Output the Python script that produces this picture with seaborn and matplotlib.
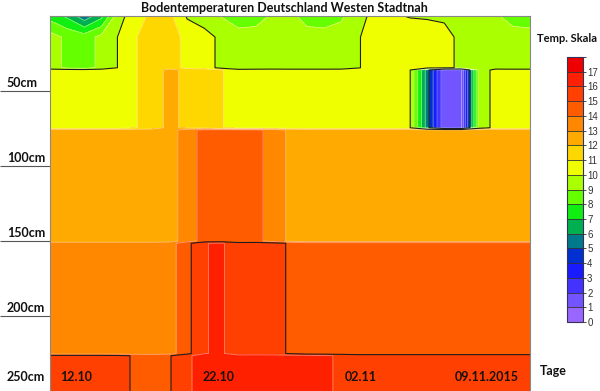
import numpy as np
import matplotlib
matplotlib.use("Agg")
import matplotlib.pyplot as plt
from matplotlib.colors import ListedColormap, BoundaryNorm
import seaborn as sns

# Tage 12.10. bis 09.11.2015 (Index 0..28)
tage = np.arange(29)

# Bodentemperaturen in °C, ein Wert pro Tag und Schicht
oberflaeche = [7.6, 6.8, 5.3, 6.7, 9.7, 10.5, 11.3, 11.2, 9.9, 9.3, 8.95, 8.6, 8.7, 9.1, 9.2,
               8.7, 8.6, 8.85, 9.7, 10.3, 10.1, 9.95, 9.9, 9.8, 9.3, 9.2, 9.1, 8.7, 8.6]
schicht_oben = [9.4, 8.8, 8.5, 9.3, 10.05, 10.95, 11.5, 11.6, 10.6, 10.5, 9.7, 9.3, 9.3, 9.4, 9.3,
                9.3, 9.3, 9.4, 9.95, 10.4, 10.5, 10.5, 10.5, 10.4, 9.7, 9.4, 9.4, 9.3, 9.3]
schicht_50cm = [10.4, 10.4, 10.4, 10.4, 10.4, 10.95, 11.5, 12.3, 11.7, 11.5, 11.1, 10.3, 10.4, 10.4, 10.4,
                10.4, 10.4, 10.4, 10.4, 10.4, 10.4, 10.05, 5.5, 1.2, 1.0, 9.2, 10.4, 10.4, 10.4]
schicht_100cm = [12.4, 12.4, 12.4, 12.4, 12.4, 12.4, 12.4, 12.5, 13.6, 14.3, 14.4, 14.4, 14.3, 13.6, 12.8,
                 12.4, 12.4, 12.4, 12.4, 12.4, 12.4, 12.4, 12.4, 12.4, 12.4, 12.4, 12.4, 12.4, 12.4]
schicht_200cm = [13.5, 13.5, 13.5, 13.5, 13.5, 13.5, 13.5, 13.6, 14.7, 15.95, 16.15, 15.3, 15.4, 15.3, 14.9,
                 14.5, 14.5, 14.5, 14.5, 14.5, 14.5, 14.5, 14.5, 14.5, 14.5, 14.5, 14.5, 14.5, 14.5]
schicht_250cm = [15.3, 15.3, 15.3, 15.3, 15.2, 14.9, 14.7, 14.95, 15.8, 16.5, 16.4, 16.4, 16.4, 16.4, 16.4,
                 16.4, 16.2, 15.8, 15.5, 15.5, 15.5, 15.5, 15.5, 15.5, 15.5, 15.5, 15.5, 15.5, 15.5]

# Tiefe (cm) der Ober- und Unterkante jeder Schicht
tiefe = [0, 14, 34.5, 36, 74.5, 76, 150, 151.5, 225, 226.5, 250]
zeilen = [oberflaeche, schicht_oben, schicht_oben, schicht_50cm, schicht_50cm,
          schicht_100cm, schicht_100cm, schicht_200cm, schicht_200cm, schicht_250cm, schicht_250cm]

tiefe_ticks = [50, 100, 150, 200, 250]
tiefe_labels = ['50cm', '100cm', '150cm', '200cm', '250cm']
datum_labels = ['12.10', '22.10', '02.11', '09.11.2015']
datum_pos = [0.58, 8.9, 17.2, 23.6]

# Farbskala 0..17 °C
farben = ['#9966ff', '#7355ff', '#4433ff', '#1a1aff', '#0030d0', '#007a8a', '#00b050', '#11ee11',
          '#66ff00', '#aaff00', '#f0ff00', '#ffd700', '#ffaa00', '#ff8800', '#ff5c00', '#ff4000',
          '#ff2000', '#ee0000']
stufen = np.arange(0, 19)

sns.set_style("white")
plt.rcParams['font.family'] = ['Lato', 'DejaVu Sans']

cmap = ListedColormap(sns.color_palette(farben))
norm = BoundaryNorm(stufen, cmap.N)
Z = np.array(zeilen)

fig = plt.figure(figsize=(6, 3.91), dpi=100)
ax = fig.add_axes([50 / 600, 0, 480 / 600, 375 / 391])

cs = ax.contourf(tage, tiefe, Z, levels=stufen, cmap=cmap, norm=norm)
ax.contour(tage, tiefe, Z, levels=[l for l in range(1, 18) if l % 5],
           colors=[(1, 1, 1, 0.45)], linewidths=0.6)
ax.contour(tage, tiefe, Z, levels=[5, 10, 15], colors='#1e1e1e', linewidths=0.8)

ax.set_xlim(0, 28)
ax.set_ylim(250, 0)
ax.set_xticks([])
ax.set_yticks(tiefe_ticks[:-1])
ax.tick_params(axis='y', left=True, length=36, width=0.8, color='#555555', labelleft=False)
for s in ax.spines.values():
    s.set_color('#888888')
    s.set_linewidth(0.8)

# Tiefenbeschriftung über den Strichen
for t, lab in zip(tiefe_ticks, tiefe_labels):
    off = 7 if t == 250 else 3
    ax.annotate(lab, xy=(0, t), xycoords=('axes fraction', 'data'), xytext=(-31, off),
                textcoords='offset points', ha='left', va='baseline', fontsize=9,
                fontweight='bold', color='#111111', annotation_clip=False)

for p, lab in zip(datum_pos, datum_labels):
    ax.text(p, 240.7, lab, ha='left', va='center', fontsize=9, fontweight='bold', color='#1a1010')

fig.text(284 / 600, 1 - 8 / 391, 'Bodentemperaturen Deutschland Westen Stadtnah',
         ha='center', va='center', fontsize=9, fontweight='bold', color='#111111')
fig.text(540 / 600, 1 - 371 / 391, 'Tage', ha='left', va='center', fontsize=9,
         fontweight='bold', color='#111111')
fig.text(537 / 600, 1 - 38 / 391, 'Temp. Skala', ha='left', va='center', fontsize=8,
         fontweight='bold', color='#111111')

cax = fig.add_axes([567 / 600, (391 - 322) / 391, 16 / 600, 265 / 391])
cb = fig.colorbar(cs, cax=cax, ticks=range(18), drawedges=True)
cb.outline.set_edgecolor('#333355')
cb.outline.set_linewidth(0.8)
cb.dividers.set_color('#333333')
cb.dividers.set_linewidth(0.6)
cax.tick_params(right=True, length=2, width=0.6, color='#333333', labelsize=7,
                labelcolor='#333333', pad=1)
for t in cax.get_yticklabels():
    t.set_family('Liberation Sans')

fig.savefig('out.png', dpi=100)
